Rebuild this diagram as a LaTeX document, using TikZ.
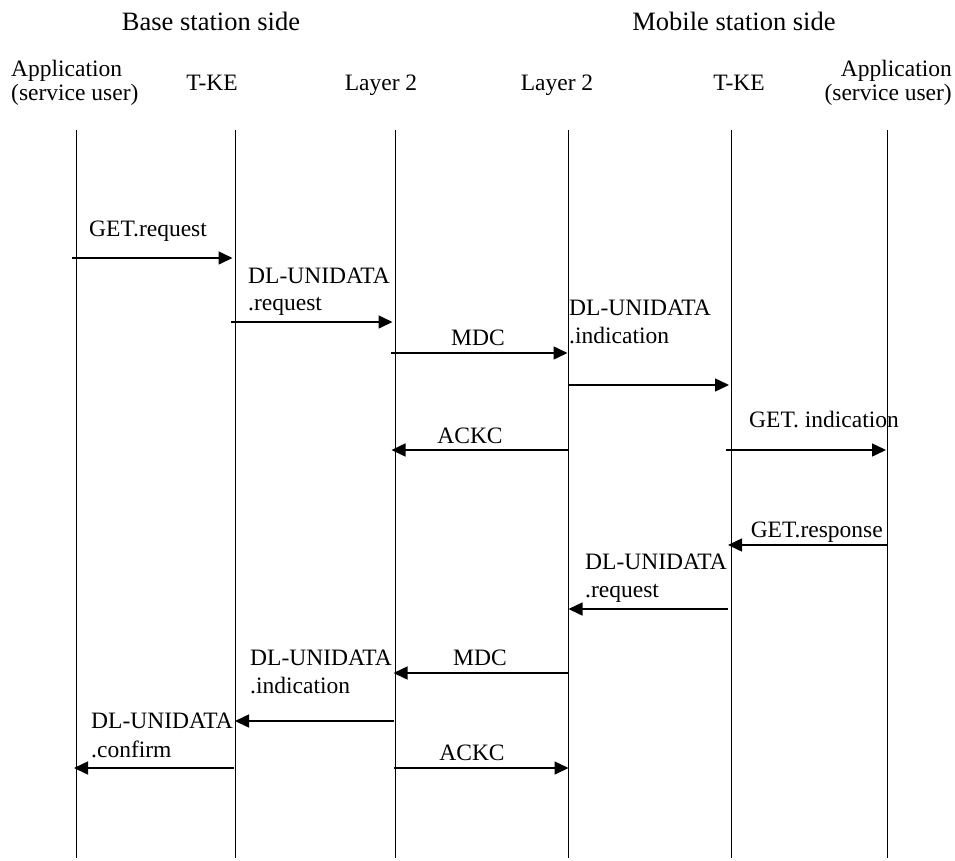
\documentclass[tikz,border=0pt]{standalone}
\usepackage{fontspec}
\setmainfont{Liberation Serif}
\usetikzlibrary{arrows.meta}
\begin{document}
\begin{tikzpicture}[x=1pt,y=-1pt,
  life/.style={line width=0.9pt},
  msg/.style={line width=1.5pt,-{Triangle[length=14pt,width=13pt]}},
  lbl/.style={font=\fontsize{23.5}{27}\selectfont, inner sep=0pt},
  hdr/.style={font=\fontsize{26.5}{30}\selectfont, inner sep=0pt}]
\useasboundingbox (0,0) rectangle (955,861);
% lifelines
\foreach \n/\x in {a1/76.5,t1/235.5,l1/395.5,l2/568.5,t2/731,a2/887}{
  \coordinate (\n) at (\x,130);
  \coordinate (\n b) at (\x,858);
  \draw[life] (\n) -- (\n b);
}
% headers
\node[hdr,anchor=base] (bs) at (211,31) {Base station side};
\node[hdr,anchor=base] (ms) at (734,31) {Mobile station side};
\node[lbl,anchor=base west] (app1a) at (11,77) {Application};
\node[lbl,anchor=base west] (app1b) at (11,101) {(service user)};
\node[lbl,anchor=base] (tke1) at (212,91) {T-KE};
\node[lbl,anchor=base] (lay1) at (381,91) {Layer 2};
\node[lbl,anchor=base] (lay2) at (557,91) {Layer 2};
\node[lbl,anchor=base] (tke2) at (739,91) {T-KE};
\node[lbl,anchor=base east] (app2a) at (952,77) {Application};
\node[lbl,anchor=base east] (app2b) at (952,101) {(service user)};
% messages
% 1
\draw[msg] ([xshift=-4.5pt]a1 |- 0,258) -- ([xshift=-3pt]t1 |- 0,258);
\node[lbl,anchor=base west] (m1) at (89,236) {GET.request};
% 2
\draw[msg] ([xshift=-4.5pt]t1 |- 0,322) -- ([xshift=-3pt]l1 |- 0,322);
\node[lbl,anchor=base west] (m2a) at (248,283) {DL-UNIDATA};
\node[lbl,anchor=base west] (m2b) at (248,310) {.request};
% 3
\draw[msg] ([xshift=-4.5pt]l1 |- 0,353) -- ([xshift=-1pt]l2 |- 0,353);
\node[lbl,anchor=base] (m3) at (478,345) {MDC};
% 4
\draw[msg] (l2 |- 0,385) -- ([xshift=-2pt]t2 |- 0,385);
\node[lbl,anchor=base west] (m4a) at (569,315) {DL-UNIDATA};
\node[lbl,anchor=base west] (m4b) at (569,343) {.indication};
% 5
\draw[msg] (l2 |- 0,450) -- ([xshift=-4pt]l1 |- 0,450);
\node[lbl,anchor=base] (m5) at (470,443) {ACKC};
% 6
\draw[msg] ([xshift=-5pt]t2 |- 0,450) -- ([xshift=-1pt]a2 |- 0,450);
\node[lbl,anchor=base west] (m6) at (749,427) {GET. indication};
% 7
\draw[msg] (a2 |- 0,545) -- ([xshift=-3pt]t2 |- 0,545);
\node[lbl,anchor=base east] (m7) at (883,537) {GET.response};
% 8
\draw[msg] ([xshift=-3pt]t2 |- 0,609) -- (l2 |- 0,609);
\node[lbl,anchor=base west] (m8a) at (585,569) {DL-UNIDATA};
\node[lbl,anchor=base west] (m8b) at (585,597) {.request};
% 9
\draw[msg] (l2 |- 0,673) -- ([xshift=-2pt]l1 |- 0,673);
\node[lbl,anchor=base] (m9) at (480,665) {MDC};
% 10
\draw[msg] ([xshift=-2pt]l1 |- 0,721) -- ([xshift=-0.5pt]t1 |- 0,721);
\node[lbl,anchor=base west] (m10a) at (250,665) {DL-UNIDATA};
\node[lbl,anchor=base west] (m10b) at (250,693) {.indication};
% 11
\draw[msg] ([xshift=-2pt]t1 |- 0,768) -- ([xshift=-2.5pt]a1 |- 0,768);
\node[lbl,anchor=base west] (m11a) at (91,728) {DL-UNIDATA};
\node[lbl,anchor=base west] (m11b) at (91,757) {.confirm};
% 12
\draw[msg] ([xshift=-2pt]l1 |- 0,768) -- (l2 |- 0,768);
\node[lbl,anchor=base] (m12) at (472,760) {ACKC};
\end{tikzpicture}
\end{document}
